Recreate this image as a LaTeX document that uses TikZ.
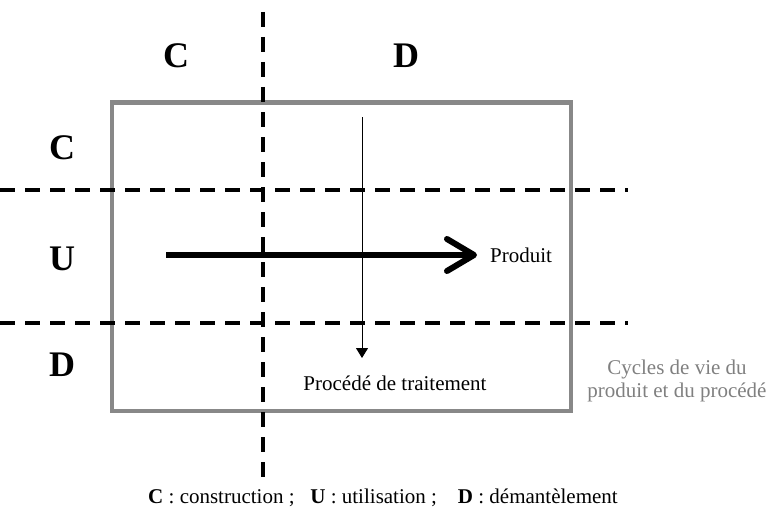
\documentclass[tikz,border=0pt]{standalone}
\usepackage{fontspec}
\setmainfont{Liberation Serif}
\usetikzlibrary{arrows.meta}
\definecolor{framegray}{HTML}{888888}
\definecolor{textgray}{HTML}{808080}
\tikzset{
  divider/.style={line width=4pt, dash pattern=on 15pt off 10pt},
  frame/.style={draw=framegray, line width=4.5pt},
  biglabel/.style={font=\fontsize{36}{36}\selectfont\bfseries, inner sep=0pt},
  txt/.style={font=\fontsize{21}{23}\selectfont, inner sep=0pt},
  thickarrow/.style={line width=6pt, -{Straight Barb[length=27pt,width=32pt,line cap=round,line join=round]}},
  thinarrow/.style={line width=1pt, -{Triangle[length=10pt,width=12pt]}}
}
\begin{document}
\begin{tikzpicture}[x=1pt,y=-1pt]
\useasboundingbox (0,0) rectangle (775,516);
% frame
\node[frame, minimum width=459pt, minimum height=308pt, inner sep=0pt, anchor=north west] (box) at (109.5,100.5) {};
% dividers
\coordinate (vtop) at (263,12);
\coordinate (vbot) at (263,477);
\coordinate (h1l) at (0,190);
\coordinate (h1r) at (628,190);
\coordinate (h2l) at (0,323);
\coordinate (h2r) at (628,323);
\draw[divider] (vtop) -- (vbot);
\draw[divider] (h1l) -- (h1r);
\draw[divider] (h2l) -- (h2r);
% labels
\node[biglabel] (cTop) at (176,56) {C};
\node[biglabel] (dTop) at (406,56) {D};
\node[biglabel] (cLeft) at (62,148) {C};
\node[biglabel] (uLeft) at (62,259) {U};
\node[biglabel] (dLeft) at (62,365) {D};
% arrows
\coordinate (pStart) at (166,255);
\coordinate (pEnd) at (477,255);
\node[txt, anchor=west] (produit) at (490,255) {Produit};
\draw[thickarrow] (pStart) -- (pEnd);
\coordinate (tStart) at (362,117);
\coordinate (tEnd) at (362,358);
\draw[thinarrow] (tStart) -- (tEnd);
\node[txt] (proc) at (395,383) {Procédé de traitement};
\node[txt, text=textgray, align=center] (cycles) at (677,381) {Cycles de vie du\\produit et du procédé};
% legend
\node[txt] (legend) at (383,498) {\textbf{C} : construction ;\ \ \ \textbf{U} : utilisation ;\ \ \ \ \textbf{D} : démantèlement};
\end{tikzpicture}
\end{document}
